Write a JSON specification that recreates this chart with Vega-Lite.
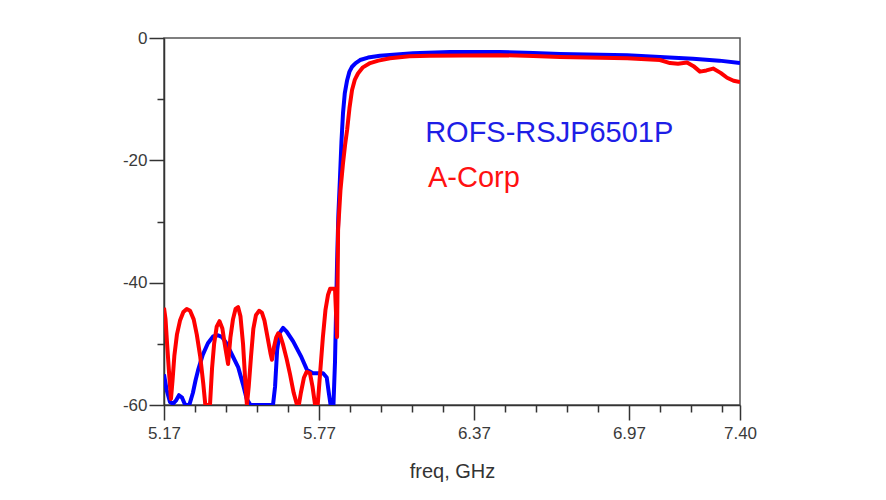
{
  "$schema": "https://vega.github.io/schema/vega-lite/v6.json",
  "width": 576,
  "height": 367,
  "autosize": {"type": "none"},
  "padding": {"left": 164, "top": 38, "right": 146, "bottom": 95},
  "background": "white",
  "config": {
    "view": {"stroke": "#555555", "strokeWidth": 1.5},
    "axis": {"grid": false, "domainColor": "#333333", "tickColor": "#333333", "domainWidth": 1.5, "tickWidth": 1.5, "labelFont": "Liberation Sans", "titleFont": "Liberation Sans", "labelColor": "#3a3a3a", "titleColor": "#333333", "labelFontSize": 17, "titleFontWeight": "normal"}
  },
  "datasets": {
    "curves": [
      {"series": "ROFS", "freq": 5.170, "dB": -55.0},
      {"series": "ROFS", "freq": 5.180, "dB": -57.5},
      {"series": "ROFS", "freq": 5.193, "dB": -59.5},
      {"series": "ROFS", "freq": 5.205, "dB": -59.8},
      {"series": "ROFS", "freq": 5.216, "dB": -59.3},
      {"series": "ROFS", "freq": 5.228, "dB": -58.4},
      {"series": "ROFS", "freq": 5.240, "dB": -58.8},
      {"series": "ROFS", "freq": 5.252, "dB": -60.0},
      {"series": "ROFS", "freq": 5.268, "dB": -60.0},
      {"series": "ROFS", "freq": 5.282, "dB": -58.0},
      {"series": "ROFS", "freq": 5.292, "dB": -56.0},
      {"series": "ROFS", "freq": 5.302, "dB": -54.3},
      {"series": "ROFS", "freq": 5.320, "dB": -51.8},
      {"series": "ROFS", "freq": 5.340, "dB": -49.9},
      {"series": "ROFS", "freq": 5.360, "dB": -48.8},
      {"series": "ROFS", "freq": 5.379, "dB": -48.6},
      {"series": "ROFS", "freq": 5.395, "dB": -48.9},
      {"series": "ROFS", "freq": 5.410, "dB": -49.8},
      {"series": "ROFS", "freq": 5.430, "dB": -51.5},
      {"series": "ROFS", "freq": 5.457, "dB": -53.8},
      {"series": "ROFS", "freq": 5.475, "dB": -56.5},
      {"series": "ROFS", "freq": 5.490, "dB": -59.0},
      {"series": "ROFS", "freq": 5.505, "dB": -60.0},
      {"series": "ROFS", "freq": 5.592, "dB": -60.0},
      {"series": "ROFS", "freq": 5.600, "dB": -57.0},
      {"series": "ROFS", "freq": 5.608, "dB": -51.0},
      {"series": "ROFS", "freq": 5.618, "dB": -48.2},
      {"series": "ROFS", "freq": 5.631, "dB": -47.4},
      {"series": "ROFS", "freq": 5.645, "dB": -48.0},
      {"series": "ROFS", "freq": 5.670, "dB": -49.6},
      {"series": "ROFS", "freq": 5.700, "dB": -52.0},
      {"series": "ROFS", "freq": 5.724, "dB": -54.3},
      {"series": "ROFS", "freq": 5.747, "dB": -54.8},
      {"series": "ROFS", "freq": 5.786, "dB": -54.8},
      {"series": "ROFS", "freq": 5.800, "dB": -55.5},
      {"series": "ROFS", "freq": 5.808, "dB": -58.0},
      {"series": "ROFS", "freq": 5.815, "dB": -60.0},
      {"series": "ROFS", "freq": 5.826, "dB": -60.0},
      {"series": "ROFS", "freq": 5.832, "dB": -53.0},
      {"series": "ROFS", "freq": 5.836, "dB": -45.0},
      {"series": "ROFS", "freq": 5.840, "dB": -36.8},
      {"series": "ROFS", "freq": 5.845, "dB": -29.0},
      {"series": "ROFS", "freq": 5.851, "dB": -23.2},
      {"series": "ROFS", "freq": 5.857, "dB": -17.0},
      {"series": "ROFS", "freq": 5.863, "dB": -12.3},
      {"series": "ROFS", "freq": 5.870, "dB": -9.0},
      {"series": "ROFS", "freq": 5.879, "dB": -6.9},
      {"series": "ROFS", "freq": 5.888, "dB": -5.5},
      {"series": "ROFS", "freq": 5.898, "dB": -4.7},
      {"series": "ROFS", "freq": 5.912, "dB": -4.1},
      {"series": "ROFS", "freq": 5.929, "dB": -3.6},
      {"series": "ROFS", "freq": 5.960, "dB": -3.2},
      {"series": "ROFS", "freq": 6.006, "dB": -2.9},
      {"series": "ROFS", "freq": 6.070, "dB": -2.7},
      {"series": "ROFS", "freq": 6.134, "dB": -2.5},
      {"series": "ROFS", "freq": 6.277, "dB": -2.3},
      {"series": "ROFS", "freq": 6.471, "dB": -2.3},
      {"series": "ROFS", "freq": 6.600, "dB": -2.45},
      {"series": "ROFS", "freq": 6.703, "dB": -2.6},
      {"series": "ROFS", "freq": 6.963, "dB": -2.8},
      {"series": "ROFS", "freq": 7.090, "dB": -3.1},
      {"series": "ROFS", "freq": 7.218, "dB": -3.4},
      {"series": "ROFS", "freq": 7.320, "dB": -3.7},
      {"series": "ROFS", "freq": 7.400, "dB": -4.1},
      {"series": "ACorp", "freq": 5.170, "dB": -44.1},
      {"series": "ACorp", "freq": 5.176, "dB": -46.0},
      {"series": "ACorp", "freq": 5.182, "dB": -50.0},
      {"series": "ACorp", "freq": 5.190, "dB": -55.0},
      {"series": "ACorp", "freq": 5.197, "dB": -59.0},
      {"series": "ACorp", "freq": 5.203, "dB": -56.0},
      {"series": "ACorp", "freq": 5.210, "dB": -52.0},
      {"series": "ACorp", "freq": 5.220, "dB": -48.5},
      {"series": "ACorp", "freq": 5.232, "dB": -46.2},
      {"series": "ACorp", "freq": 5.245, "dB": -44.8},
      {"series": "ACorp", "freq": 5.258, "dB": -44.3},
      {"series": "ACorp", "freq": 5.271, "dB": -44.6},
      {"series": "ACorp", "freq": 5.285, "dB": -46.0},
      {"series": "ACorp", "freq": 5.297, "dB": -48.5},
      {"series": "ACorp", "freq": 5.310, "dB": -52.0},
      {"series": "ACorp", "freq": 5.322, "dB": -56.5},
      {"series": "ACorp", "freq": 5.330, "dB": -60.0},
      {"series": "ACorp", "freq": 5.348, "dB": -60.0},
      {"series": "ACorp", "freq": 5.356, "dB": -54.0},
      {"series": "ACorp", "freq": 5.364, "dB": -50.0},
      {"series": "ACorp", "freq": 5.374, "dB": -47.2},
      {"series": "ACorp", "freq": 5.385, "dB": -46.3},
      {"series": "ACorp", "freq": 5.396, "dB": -47.5},
      {"series": "ACorp", "freq": 5.405, "dB": -50.0},
      {"series": "ACorp", "freq": 5.418, "dB": -53.3},
      {"series": "ACorp", "freq": 5.427, "dB": -49.0},
      {"series": "ACorp", "freq": 5.437, "dB": -46.0},
      {"series": "ACorp", "freq": 5.447, "dB": -44.3},
      {"series": "ACorp", "freq": 5.457, "dB": -44.0},
      {"series": "ACorp", "freq": 5.466, "dB": -45.5},
      {"series": "ACorp", "freq": 5.476, "dB": -50.0},
      {"series": "ACorp", "freq": 5.486, "dB": -57.0},
      {"series": "ACorp", "freq": 5.491, "dB": -60.0},
      {"series": "ACorp", "freq": 5.498, "dB": -57.0},
      {"series": "ACorp", "freq": 5.507, "dB": -52.0},
      {"series": "ACorp", "freq": 5.516, "dB": -47.5},
      {"series": "ACorp", "freq": 5.526, "dB": -45.3},
      {"series": "ACorp", "freq": 5.538, "dB": -44.6},
      {"series": "ACorp", "freq": 5.549, "dB": -44.9},
      {"series": "ACorp", "freq": 5.559, "dB": -46.2},
      {"series": "ACorp", "freq": 5.569, "dB": -48.5},
      {"series": "ACorp", "freq": 5.582, "dB": -51.5},
      {"series": "ACorp", "freq": 5.588, "dB": -52.6},
      {"series": "ACorp", "freq": 5.596, "dB": -50.5},
      {"series": "ACorp", "freq": 5.604, "dB": -49.0},
      {"series": "ACorp", "freq": 5.612, "dB": -48.3},
      {"series": "ACorp", "freq": 5.619, "dB": -48.5},
      {"series": "ACorp", "freq": 5.630, "dB": -50.0},
      {"series": "ACorp", "freq": 5.645, "dB": -52.5},
      {"series": "ACorp", "freq": 5.658, "dB": -55.0},
      {"series": "ACorp", "freq": 5.672, "dB": -58.0},
      {"series": "ACorp", "freq": 5.685, "dB": -60.0},
      {"series": "ACorp", "freq": 5.692, "dB": -60.0},
      {"series": "ACorp", "freq": 5.700, "dB": -58.0},
      {"series": "ACorp", "freq": 5.712, "dB": -55.5},
      {"series": "ACorp", "freq": 5.722, "dB": -54.6},
      {"series": "ACorp", "freq": 5.735, "dB": -54.8},
      {"series": "ACorp", "freq": 5.745, "dB": -57.0},
      {"series": "ACorp", "freq": 5.755, "dB": -60.0},
      {"series": "ACorp", "freq": 5.765, "dB": -60.0},
      {"series": "ACorp", "freq": 5.774, "dB": -55.0},
      {"series": "ACorp", "freq": 5.785, "dB": -49.0},
      {"series": "ACorp", "freq": 5.795, "dB": -44.5},
      {"series": "ACorp", "freq": 5.805, "dB": -42.0},
      {"series": "ACorp", "freq": 5.813, "dB": -41.0},
      {"series": "ACorp", "freq": 5.832, "dB": -41.0},
      {"series": "ACorp", "freq": 5.836, "dB": -45.0},
      {"series": "ACorp", "freq": 5.840, "dB": -48.9},
      {"series": "ACorp", "freq": 5.844, "dB": -31.4},
      {"series": "ACorp", "freq": 5.853, "dB": -25.0},
      {"series": "ACorp", "freq": 5.863, "dB": -20.5},
      {"series": "ACorp", "freq": 5.871, "dB": -17.5},
      {"series": "ACorp", "freq": 5.879, "dB": -15.0},
      {"series": "ACorp", "freq": 5.888, "dB": -11.5},
      {"series": "ACorp", "freq": 5.898, "dB": -8.5},
      {"series": "ACorp", "freq": 5.909, "dB": -6.8},
      {"series": "ACorp", "freq": 5.921, "dB": -5.8},
      {"series": "ACorp", "freq": 5.940, "dB": -4.8},
      {"series": "ACorp", "freq": 5.968, "dB": -4.1},
      {"series": "ACorp", "freq": 6.000, "dB": -3.7},
      {"series": "ACorp", "freq": 6.045, "dB": -3.3},
      {"series": "ACorp", "freq": 6.120, "dB": -3.0},
      {"series": "ACorp", "freq": 6.200, "dB": -2.9},
      {"series": "ACorp", "freq": 6.330, "dB": -2.85},
      {"series": "ACorp", "freq": 6.471, "dB": -2.8},
      {"series": "ACorp", "freq": 6.600, "dB": -2.95},
      {"series": "ACorp", "freq": 6.703, "dB": -3.1},
      {"series": "ACorp", "freq": 6.963, "dB": -3.3},
      {"series": "ACorp", "freq": 7.090, "dB": -3.6},
      {"series": "ACorp", "freq": 7.129, "dB": -4.1},
      {"series": "ACorp", "freq": 7.160, "dB": -4.2},
      {"series": "ACorp", "freq": 7.195, "dB": -4.0},
      {"series": "ACorp", "freq": 7.220, "dB": -4.6},
      {"series": "ACorp", "freq": 7.245, "dB": -5.5},
      {"series": "ACorp", "freq": 7.270, "dB": -5.3},
      {"series": "ACorp", "freq": 7.296, "dB": -5.0},
      {"series": "ACorp", "freq": 7.325, "dB": -5.7},
      {"series": "ACorp", "freq": 7.350, "dB": -6.5},
      {"series": "ACorp", "freq": 7.375, "dB": -7.0},
      {"series": "ACorp", "freq": 7.400, "dB": -7.2}
    ],
    "labels": [
      {"label": "ROFS-RSJP6501P", "freq": 6.181, "dB": -17.0, "series": "ROFS"},
      {"label": "A-Corp", "freq": 6.192, "dB": -24.3, "series": "ACorp"}
    ]
  },
  "resolve": {"axis": {"x": "independent", "y": "independent"}},
  "layer": [
    {
      "data": {"name": "curves"},
      "transform": [{"filter": "datum.series === 'ROFS'"}],
      "mark": {"type": "line", "color": "#0000ff", "strokeWidth": 4, "clip": true, "strokeJoin": "round"},
      "encoding": {
        "x": {"field": "freq", "type": "quantitative", "scale": {"domain": [5.17, 7.4], "nice": false, "zero": false},
          "axis": {"orient": "bottom", "values": [5.17, 5.77, 6.37, 6.97, 7.4], "format": ".2f", "tickSize": 15, "labelPadding": 5, "title": "freq, GHz", "titleFontSize": 20, "titlePadding": 20, "labelFlush": false}},
        "y": {"field": "dB", "type": "quantitative", "scale": {"domain": [-60, 0], "nice": false, "zero": false},
          "axis": {"orient": "left", "values": [0, -20, -40, -60], "labelExpr": "toString(datum.value)", "tickSize": 15, "labelPadding": 2, "title": null, "labelFlush": false}}
      }
    },
    {
      "data": {"name": "curves"},
      "transform": [{"filter": "datum.series === 'ACorp'"}],
      "mark": {"type": "line", "color": "#ff0000", "strokeWidth": 4, "clip": true, "strokeJoin": "round"},
      "encoding": {
        "x": {"field": "freq", "type": "quantitative",
          "axis": {"orient": "bottom", "values": [5.29, 5.41, 5.53, 5.65, 5.89, 6.01, 6.13, 6.25, 6.49, 6.61, 6.73, 6.85, 7.09, 7.21, 7.33], "tickSize": 7, "labels": false, "domain": false, "title": null}},
        "y": {"field": "dB", "type": "quantitative",
          "axis": {"orient": "left", "values": [-10, -30, -50], "tickSize": 7, "labels": false, "domain": false, "title": null}}
      }
    },
    {
      "data": {"name": "labels"},
      "mark": {"type": "text", "align": "left", "baseline": "alphabetic", "font": "Liberation Sans", "fontSize": 29},
      "encoding": {
        "x": {"field": "freq", "type": "quantitative", "axis": null},
        "y": {"field": "dB", "type": "quantitative", "axis": null},
        "text": {"field": "label"},
        "color": {"field": "series", "type": "nominal", "scale": {"domain": ["ROFS", "ACorp"], "range": ["#1e1ee6", "#ff1111"]}, "legend": null}
      }
    }
  ]
}
